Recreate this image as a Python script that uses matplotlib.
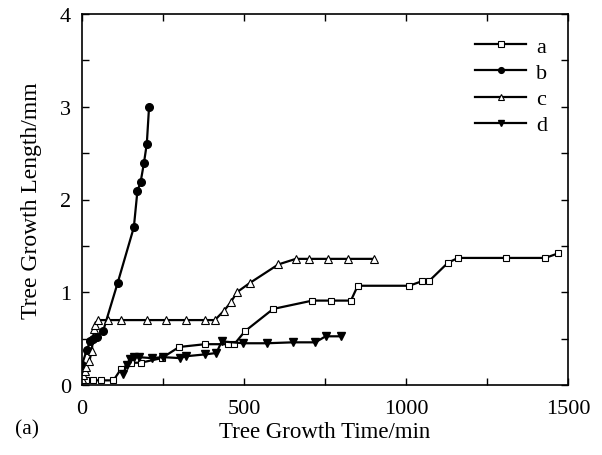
import matplotlib
matplotlib.use("Agg")
import matplotlib.pyplot as plt
from matplotlib.ticker import MultipleLocator

plt.rcParams['font.family'] = ['Liberation Serif', 'DejaVu Serif']
plt.rcParams['mathtext.fontset'] = 'stix'

# --- data ---
a_x = [12, 35, 58, 97, 120, 150, 181, 246, 300, 380, 452, 470, 503, 590,
       711, 770, 830, 851, 1010, 1050, 1071, 1130, 1161, 1310, 1430, 1470]
a_y = [0.05, 0.05, 0.05, 0.05, 0.17, 0.24, 0.24, 0.29, 0.41, 0.44, 0.44, 0.44, 0.58, 0.82,
       0.91, 0.91, 0.91, 1.07, 1.07, 1.12, 1.12, 1.32, 1.37, 1.37, 1.37, 1.42]

b_x = [0, 15, 25, 35, 45, 65, 110, 160, 171, 181, 191, 200, 207]
b_y = [0.22, 0.38, 0.47, 0.50, 0.52, 0.58, 1.10, 1.70, 2.09, 2.19, 2.39, 2.60, 3.00]

c_x = [0, 4, 8, 12, 23, 30, 37, 40, 50, 81, 119, 200, 260, 320, 380, 410,
       438, 459, 478, 518, 606, 660, 700, 760, 820, 900]
c_y = [0.06, 0.11, 0.15, 0.19, 0.26, 0.37, 0.60, 0.65, 0.70, 0.70, 0.70, 0.70, 0.70, 0.70, 0.70, 0.70,
       0.80, 0.89, 1.00, 1.10, 1.30, 1.36, 1.36, 1.36, 1.36, 1.36]

d_x = [128, 138, 148, 160, 175, 215, 251, 302, 321, 380, 415, 431, 498, 570,
       650, 720, 752, 800]
d_y = [0.12, 0.22, 0.28, 0.30, 0.30, 0.29, 0.30, 0.29, 0.31, 0.33, 0.345, 0.47, 0.45, 0.45,
       0.46, 0.46, 0.525, 0.525]

labels = ['a', 'b', 'c', 'd']

# --- figure ---
fig = plt.figure(figsize=(6.02, 4.56), dpi=100)
ax = fig.add_axes([82 / 602, 1 - 386 / 456, (568 - 82) / 602, (386 - 15) / 456])

lw = 1.6
ax.plot(a_x, a_y, '-s', color='black', lw=lw, ms=5, mfc='white', mec='black', mew=0.8, label=labels[0])
ax.plot(b_x, b_y, '-o', color='black', lw=lw, ms=5.5, mfc='black', mec='black', label=labels[1])
ax.plot(c_x, c_y, '-^', color='black', lw=lw, ms=6, mfc='white', mec='black', mew=0.8, label=labels[2])
ax.plot(d_x, d_y, '-v', color='black', lw=lw, ms=6, mfc='black', mec='black', label=labels[3])

ax.set_xlim(0, 1500)
ax.set_ylim(0, 4)
ax.xaxis.set_major_locator(MultipleLocator(500))
ax.xaxis.set_minor_locator(MultipleLocator(250))
ax.yaxis.set_major_locator(MultipleLocator(1))
ax.yaxis.set_minor_locator(MultipleLocator(0.5))
ax.tick_params(which='both', direction='in', top=True, right=True, length=5, width=1,
               labelsize=16)
ax.tick_params(axis='x', pad=10)
ax.tick_params(axis='y', pad=8)
for s in ax.spines.values():
    s.set_linewidth(1.2)

ax.set_xlabel('Tree Growth Time/min', fontsize=16.5, labelpad=2)
ax.set_ylabel('Tree Growth Length/mm', fontsize=17, labelpad=13)
fig.text(15 / 602, 1 - 430 / 456, '(a)', fontsize=15.5, va='center', ha='left')

ax.legend(loc='upper right', bbox_to_anchor=(0.985, 0.975), frameon=False, fontsize=16,
          handlelength=2.3, handletextpad=0.45, labelspacing=0.25, markerscale=0.75,
          borderaxespad=0.2)

fig.savefig('out.png', dpi=100)
